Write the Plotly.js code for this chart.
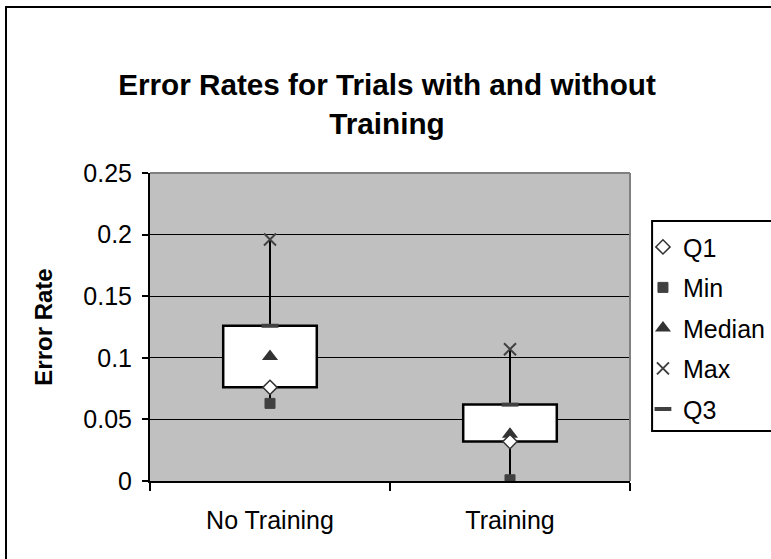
<!DOCTYPE html>
<html>
<head>
<meta charset="utf-8">
<script src="https://cdn.plot.ly/plotly-3.0.1.min.js"></script>
<style>html,body{margin:0;padding:0;background:#fff;}#chart{width:771px;height:559px;}</style>
</head>
<body>
<div id="chart"></div>
<script>
// ---- data ----
const categories = ["No Training", "Training"];
const q1Values     = [0.076, 0.032];
const minValues    = [0.063, 0.001];
const medianValues = [0.101, 0.038];
const maxValues    = [0.196, 0.107];
const q3Values     = [0.126, 0.062];
const yTickValues  = [0, 0.05, 0.1, 0.15, 0.2, 0.25];
const yTickLabels  = ["0", "0.05", "0.1", "0.15", "0.2", "0.25"];

const FONT = "Liberation Sans, Arial, sans-serif";
const DARK = "#333333";

// whisker segments min->Q1 and Q3->max (behind the box)
const wx = [], wy = [];
categories.forEach((c, i) => {
  wx.push(c, c, null, c, c, null);
  wy.push(minValues[i], q1Values[i], null, q3Values[i], maxValues[i], null);
});

const traces = [
  {
    type: "bar", x: categories, base: q1Values,
    y: q3Values.map((v, i) => v - q1Values[i]),
    width: 0.39,
    marker: {color: "#ffffff", line: {color: "#000000", width: 2.5}},
    showlegend: false, hoverinfo: "skip"
  },
  {
    type: "scatter", mode: "lines", x: wx, y: wy,
    line: {color: "#000000", width: 2}, connectgaps: false,
    showlegend: false, hoverinfo: "skip"
  },
  {
    type: "scatter", mode: "markers", name: "Min", x: categories, y: minValues,
    legendgroup: "b", legendrank: 2,
    marker: {symbol: "square", size: 10, color: "#404040", line: {color: "#404040", width: 1}}
  },
  {
    type: "scatter", mode: "markers", name: "Median", x: categories, y: medianValues,
    legendgroup: "c", legendrank: 3,
    marker: {symbol: "triangle-up", size: 14, color: DARK}
  },
  {
    type: "scatter", mode: "markers", name: "Max", x: categories, y: maxValues,
    legendgroup: "d", legendrank: 4,
    marker: {symbol: "x-thin-open", size: 12, color: "#404040", line: {color: "#404040", width: 2}}
  },
  {
    type: "scatter", mode: "markers", name: "Q3", x: categories, y: q3Values,
    legendgroup: "e", legendrank: 5,
    marker: {symbol: "line-ew-open", size: 12, color: "#404040", line: {color: "#404040", width: 4}}
  },
  {
    type: "scatter", mode: "markers", name: "Q1", x: categories, y: q1Values,
    legendgroup: "a", legendrank: 1,
    marker: {symbol: "diamond", size: 11, color: "#ffffff", line: {color: DARK, width: 1.5}}
  }
];

const layout = {
  width: 771, height: 559,
  margin: {l: 150, r: 141, t: 173, b: 78, autoexpand: false},
  paper_bgcolor: "#ffffff",
  plot_bgcolor: "#c0c0c0",
  font: {family: FONT, color: "#000000", size: 25},
  showlegend: true,
  hovermode: false,
  title: {
    text: "Error Rates for Trials with and without<br>Training",
    font: {family: FONT, size: 29.7, weight: "bold", color: "#000000"},
    xref: "container", x: 0.502, xanchor: "center",
    yref: "container", y: 0.83, yanchor: "middle"
  },
  xaxis: {
    type: "category",
    tickson: "boundaries",
    ticks: "outside", ticklen: 8, tickwidth: 2, tickcolor: "#000000",
    showline: true, linecolor: "#000000", linewidth: 2,
    showgrid: false, zeroline: false,
    tickfont: {family: FONT, size: 25},
    ticklabelstandoff: 16,
    fixedrange: true
  },
  yaxis: {
    range: [0, 0.25],
    tickvals: yTickValues, ticktext: yTickLabels,
    ticks: "outside", ticklen: 6, tickwidth: 2, tickcolor: "#000000",
    showline: true, linecolor: "#000000", linewidth: 2,
    showgrid: true, gridcolor: "#000000", gridwidth: 1,
    zeroline: false,
    tickfont: {family: FONT, size: 25},
    ticklabelstandoff: 5,
    title: {text: "Error Rate", font: {family: FONT, size: 24, weight: "bold"}, standoff: 24},
    fixedrange: true
  },
  legend: {
    x: 1.027, xanchor: "left", xref: "paper",
    y: 0.834, yanchor: "top", yref: "paper",
    bgcolor: "rgba(0,0,0,0)", borderwidth: 0,
    font: {family: FONT, size: 25},
    tracegroupgap: 5,
    traceorder: "grouped"
  },
  shapes: [
    // outer chart border (right and bottom edges fall outside the picture)
    {type: "rect", xref: "paper", yref: "paper", x0: -0.3, x1: 1.4, y0: -0.4, y1: 1.539,
     line: {color: "#000000", width: 2}, fillcolor: "rgba(0,0,0,0)", layer: "below"},
    // legend box
    {type: "rect", xref: "paper", yref: "paper", x0: 1.046, x1: 1.45, y0: (481-431)/308, y1: (481-221)/308,
     line: {color: "#000000", width: 2}, fillcolor: "#ffffff", layer: "below"},
    // grey top and right plot frame
    {type: "line", xref: "paper", yref: "paper", x0: 0, x1: 1, y0: 1, y1: 1,
     line: {color: "#808080", width: 2}, layer: "above"},
    {type: "line", xref: "paper", yref: "paper", x0: 1, x1: 1, y0: 0, y1: 1,
     line: {color: "#808080", width: 2}, layer: "above"}
  ]
};

Plotly.newPlot("chart", traces, layout, {displayModeBar: false, staticPlot: true});
</script>
</body>
</html>
